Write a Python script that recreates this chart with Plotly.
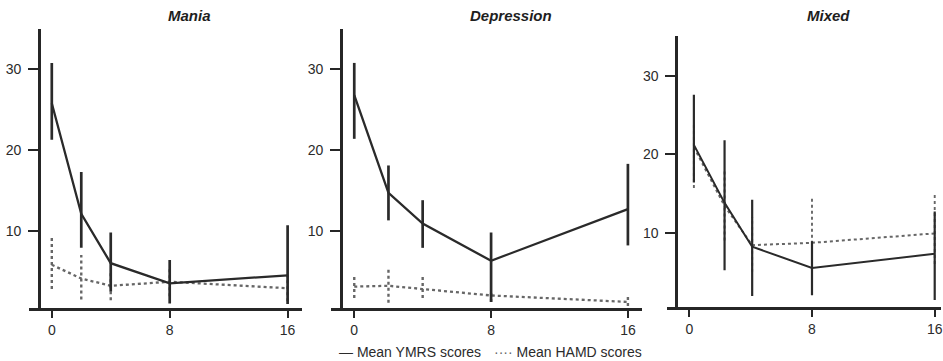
import plotly.graph_objects as go

# ---------------- data ----------------
weeks = [0, 2, 4, 8, 16]
mixed_weeks = [0.3, 2.3, 4.1, 8, 16]

panel_titles = ["Mania", "Depression", "Mixed"]
x_tick_vals = [0, 8, 16]
y_tick_vals = [10, 20, 30]

mania_ymrs = [25.8, 12.1, 6.0, 3.5, 4.5]
mania_ymrs_hi = [30.8, 17.3, 9.8, 6.4, 10.7]
mania_ymrs_lo = [21.3, 7.9, 2.5, 1.0, 0.95]
mania_hamd = [5.8, 4.1, 3.2, 3.7, 2.9]
mania_hamd_hi = [9.3, 7.0, 4.9, 5.5, 4.5]
mania_hamd_lo = [2.8, 1.5, 1.4, 1.9, 1.3]

depr_ymrs = [26.8, 14.7, 10.9, 6.3, 12.7]
depr_ymrs_hi = [30.8, 18.1, 13.8, 9.8, 18.3]
depr_ymrs_lo = [21.4, 11.3, 7.9, 1.2, 8.2]
depr_hamd = [3.1, 3.2, 2.8, 2.0, 1.2]
depr_hamd_hi = [4.5, 5.3, 4.5, 2.6, 2.0]
depr_hamd_lo = [1.7, 1.1, 1.7, 1.2, 0.7]

mixed_ymrs = [21.2, 13.8, 8.2, 5.5, 7.3]
mixed_ymrs_hi = [27.6, 21.8, 14.2, 8.9, 12.7]
mixed_ymrs_lo = [16.4, 5.2, 1.9, 2.0, 1.4]
mixed_hamd = [20.9, 13.4, 8.4, 8.7, 9.9]
mixed_hamd_hi = [24.0, 18.0, 12.0, 14.4, 14.8]
mixed_hamd_lo = [15.7, 9.0, 5.0, 4.0, 6.0]

legend_labels = ["Mean YMRS scores", "Mean HAMD scores"]

# ---------------- styling / layout ----------------
W, H = 943, 361
SOLID = "#2a2a2a"
DOT = "#666666"
AXIS = "#262626"
TXT = "#2b2b2b"
FONT = "Liberation Sans, Arial, sans-serif"


def px_x(v):
    return v / W


def px_y(v):
    return 1 - v / H


panels = [
    dict(x=weeks, ymrs=mania_ymrs, yhi=mania_ymrs_hi, ylo=mania_ymrs_lo,
         hamd=mania_hamd, hhi=mania_hamd_hi, hlo=mania_hamd_lo,
         xdom=(29, 303), xr=(-1.55, 17.0), ypos=39, ydom=(308, 29), yr=(0.45, 35.0),
         lw=2.3, ew=2.7, title_x=190),
    dict(x=weeks, ymrs=depr_ymrs, yhi=depr_ymrs_hi, ylo=depr_ymrs_lo,
         hamd=depr_hamd, hhi=depr_hamd_hi, hlo=depr_hamd_lo,
         xdom=(331.7, 643.3), xr=(-1.36, 16.82), ypos=341.7, ydom=(308, 29), yr=(0.45, 35.0),
         lw=2.3, ew=2.7, title_x=512),
    dict(x=mixed_weeks, ymrs=mixed_ymrs, yhi=mixed_ymrs_hi, ylo=mixed_ymrs_lo,
         hamd=mixed_hamd, hhi=mixed_hamd_hi, hlo=mixed_hamd_lo,
         xdom=(668.3, 943), xr=(-1.46, 16.41), ypos=677.7, ydom=(307.3, 36), yr=(0.47, 35.1),
         lw=2.0, ew=2.2, title_x=830),
]


def segments(xs, lo, hi):
    sx, sy = [], []
    for x, a, b in zip(xs, lo, hi):
        sx += [x, x, None]
        sy += [a, b, None]
    return sx, sy


fig = go.Figure()
layout = dict(
    width=W, height=H, margin=dict(l=0, r=0, t=0, b=0),
    paper_bgcolor="white", plot_bgcolor="white", showlegend=False,
    font=dict(family=FONT, color=TXT, size=14),
)
annotations = []

for i, p in enumerate(panels, start=1):
    xa = "x" if i == 1 else f"x{i}"
    ya = "y" if i == 1 else f"y{i}"
    # HAMD (dotted) first, YMRS drawn on top
    ex, ey = segments(p["x"], p["hlo"], p["hhi"])
    fig.add_trace(go.Scatter(x=ex, y=ey, mode="lines", xaxis=xa, yaxis=ya,
                             line=dict(color=DOT, width=p["ew"] - 0.3, dash="dot"),
                             hoverinfo="skip"))
    fig.add_trace(go.Scatter(x=p["x"], y=p["hamd"], mode="lines", xaxis=xa, yaxis=ya,
                             line=dict(color=DOT, width=p["lw"], dash="dot"),
                             name=legend_labels[1]))
    ex, ey = segments(p["x"], p["ylo"], p["yhi"])
    fig.add_trace(go.Scatter(x=ex, y=ey, mode="lines", xaxis=xa, yaxis=ya,
                             line=dict(color=SOLID, width=p["ew"]),
                             hoverinfo="skip"))
    fig.add_trace(go.Scatter(x=p["x"], y=p["ymrs"], mode="lines", xaxis=xa, yaxis=ya,
                             line=dict(color=SOLID, width=p["lw"]),
                             name=legend_labels[0]))

    xkey = "xaxis" if i == 1 else f"xaxis{i}"
    ykey = "yaxis" if i == 1 else f"yaxis{i}"
    layout[xkey] = dict(
        domain=[px_x(p["xdom"][0]), px_x(p["xdom"][1])], range=list(p["xr"]),
        anchor=ya, showgrid=False, zeroline=False,
        showline=True, linecolor=AXIS, linewidth=2.6,
        ticks="outside", ticklen=7, tickwidth=2.4, tickcolor=AXIS,
        tickvals=x_tick_vals, ticktext=[str(v) for v in x_tick_vals],
        ticklabeloverflow="allow",
        tickfont=dict(size=14, color=TXT, family=FONT),
    )
    layout[ykey] = dict(
        domain=[px_y(p["ydom"][0]), px_y(p["ydom"][1])], range=list(p["yr"]),
        anchor="free", position=px_x(p["ypos"]), showgrid=False, zeroline=False,
        showline=True, linecolor=AXIS, linewidth=2.6,
        ticks="outside", ticklen=10, tickwidth=2.4, tickcolor=AXIS,
        ticklabelstandoff=4,
        tickvals=y_tick_vals, ticktext=[str(v) for v in y_tick_vals],
        tickfont=dict(size=14, color=TXT, family=FONT),
    )
    annotations.append(dict(
        text=f"<b><i>{panel_titles[i - 1]}</i></b>", xref="paper", yref="paper",
        x=px_x(p["title_x"]), y=px_y(15), xanchor="center", yanchor="middle",
        showarrow=False, font=dict(size=15, color="#1e1e1e", family=FONT)))

# legend drawn as text below the middle panel
annotations.append(dict(
    text=f"— {legend_labels[0]}", xref="paper", yref="paper",
    x=px_x(338), y=px_y(352), xanchor="left", yanchor="middle", showarrow=False,
    font=dict(size=14, color=TXT, family=FONT)))
annotations.append(dict(
    text=f"<span style='color:{DOT}'>····</span> {legend_labels[1]}", xref="paper", yref="paper",
    x=px_x(493), y=px_y(352), xanchor="left", yanchor="middle", showarrow=False,
    font=dict(size=14, color=TXT, family=FONT)))

layout["annotations"] = annotations
fig.update_layout(**layout)
fig.write_html("out.html")
